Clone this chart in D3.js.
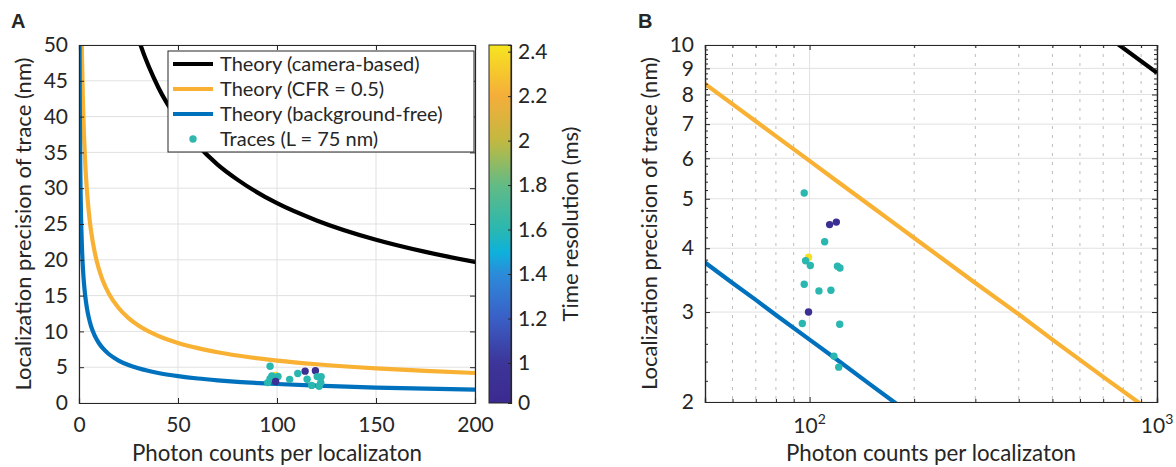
<!DOCTYPE html>
<html>
<head>
<meta charset="utf-8">
<script src="https://cdn.jsdelivr.net/npm/d3@7"></script>
<style>
  body { margin: 0; background: #fff; }
  svg text { font-family: Lato, "Open Sans", sans-serif; fill: #262626; }
</style>
</head>
<body>
<svg id="fig" width="1176" height="467"></svg>
<script>
// theory curves (photons -> precision in nm)
const photons = [0.25, 0.3, 0.35, 0.4, 0.5, 0.6, 0.7, 0.8, 1, 1.2, 1.5, 2, 2.5, 3, 4, 5, 6, 8, 10, 12, 15, 20, 25, 30, 40, 50, 60, 70, 80, 100, 120, 150, 175, 200, 300, 400, 500, 700, 1000];
const cameraBased = [558.0, 509.4, 471.6, 441.1, 394.6, 360.2, 333.5, 311.9, 279.0, 254.7, 227.8, 197.3, 176.5, 161.1, 139.5, 124.8, 113.9, 98.6, 88.2, 80.5, 72.0, 62.4, 55.8, 50.9, 44.1, 39.5, 36.0, 33.3, 31.2, 27.9, 25.5, 22.8, 21.1, 19.7, 16.1, 13.95, 12.48, 10.54, 8.82];
const cfrHalf = [118.6, 108.27, 100.24, 93.76, 83.86, 76.56, 70.87, 66.30, 59.3, 54.13, 48.42, 41.93, 37.51, 34.24, 29.65, 26.52, 24.21, 20.97, 18.75, 17.12, 15.31, 13.26, 11.86, 10.83, 9.38, 8.39, 7.66, 7.09, 6.63, 5.93, 5.41, 4.84, 4.48, 4.19, 3.42, 2.97, 2.65, 2.24, 1.88];
const bgFree = [53.0, 48.38, 44.79, 41.90, 37.48, 34.21, 31.67, 29.63, 26.5, 24.19, 21.64, 18.74, 16.76, 15.30, 13.25, 11.85, 10.82, 9.37, 8.38, 7.65, 6.84, 5.93, 5.30, 4.84, 4.19, 3.75, 3.42, 3.17, 2.96, 2.65, 2.42, 2.16, 2.00, 1.87, 1.53, 1.33, 1.19, 1.00, 0.84];

// measured traces (L = 75 nm)
const traceCounts = [96.5, 114.2, 119.4, 110.5, 99.3, 97.4, 100.5, 120.3, 122.3, 96.5, 106.4, 115.2, 99.3, 95.3, 122.1, 117.5, 121.3];
const tracePrecision = [5.13, 4.45, 4.50, 4.12, 3.84, 3.78, 3.70, 3.69, 3.66, 3.40, 3.30, 3.31, 3.00, 2.85, 2.84, 2.46, 2.34];
const traceTimeRes = [1.6, 0.9, 0.9, 1.6, 2.4, 1.6, 1.6, 1.6, 1.6, 1.6, 1.6, 1.6, 0.9, 1.6, 1.6, 1.6, 1.6];

// axes ticks
const xTicksA = [0, 50, 100, 150, 200];
const yTicksA = [0, 5, 10, 15, 20, 25, 30, 35, 40, 45, 50];
const cbTicks = [0.82, 1, 1.2, 1.4, 1.6, 1.8, 2, 2.2, 2.4];
const cbTickLabels = ["0", "1", "1.2", "1.4", "1.6", "1.8", "2", "2.2", "2.4"];
const xMajorB = [100, 1000];
const xMinorB = [60, 70, 80, 90, 200, 300, 400, 500, 600, 700, 800, 900];
const yTicksB = [2, 3, 4, 5, 6, 7, 8, 9, 10];
const yMinorB = d3.range(2.2, 10, 0.2).filter(v => Math.abs(v - Math.round(v)) > 0.05);

const legendItems = [
  {label: "Theory (camera-based)", color: "#000000", type: "line"},
  {label: "Theory (CFR = 0.5)", color: "#f8b133", type: "line"},
  {label: "Theory (background-free)", color: "#0072bd", type: "line"},
  {label: "Traces (L = 75 nm)", color: "#2fb7ad", type: "dot"}
];

const axisColor = "#262626";
const gridColor = "#e1e1e1";

// parula-like colormap for the time resolution
const cmap = d3.scaleLinear()
  .domain([0.82, 1.0, 1.2, 1.4, 1.5, 1.6, 1.8, 2.0, 2.2, 2.43])
  .range(["#3b2a8f", "#3d3599", "#3a5fc6", "#2c8bd9", "#0db2dc", "#2ab7b0", "#62bb85", "#c2b940", "#f5ad3a", "#f6e51f"])
  .interpolate(d3.interpolateRgb)
  .clamp(true);

const svg = d3.select("#fig");
const defs = svg.append("defs");

const curves = [
  {vals: cameraBased, color: "#000000"},
  {vals: cfrHalf, color: "#f8b133"},
  {vals: bgFree, color: "#0072bd"}
];

// ---------- Panel A ----------
const A = {left: 79, right: 475, top: 45, bottom: 403};
const xA = d3.scaleLinear().domain([0, 200]).range([A.left, A.right]);
const yA = d3.scaleLinear().domain([0, 50]).range([A.bottom, A.top]);

defs.append("clipPath").attr("id", "clipA")
  .append("rect").attr("x", A.left).attr("y", A.top)
  .attr("width", A.right - A.left).attr("height", A.bottom - A.top);

const gA = svg.append("g");

// grid
gA.selectAll(".gx").data(xTicksA).enter().append("line")
  .attr("x1", d => xA(d)).attr("x2", d => xA(d))
  .attr("y1", A.top).attr("y2", A.bottom)
  .attr("stroke", gridColor).attr("stroke-width", 1);
gA.selectAll(".gy").data(yTicksA).enter().append("line")
  .attr("x1", A.left).attr("x2", A.right)
  .attr("y1", d => yA(d)).attr("y2", d => yA(d))
  .attr("stroke", gridColor).attr("stroke-width", 1);

const plotA = gA.append("g").attr("clip-path", "url(#clipA)");
curves.forEach(c => {
  const line = d3.line()
    .x((d, i) => xA(photons[i]))
    .y(d => yA(d))
    .curve(d3.curveMonotoneX);
  plotA.append("path")
    .datum(c.vals)
    .attr("fill", "none")
    .attr("stroke", c.color)
    .attr("stroke-width", 4.2)
    .attr("d", line);
});

plotA.selectAll(".dotA").data(traceCounts).enter().append("circle")
  .attr("cx", d => xA(d))
  .attr("cy", (d, i) => yA(tracePrecision[i]))
  .attr("r", 3.7)
  .attr("fill", (d, i) => cmap(traceTimeRes[i]));

// axes with inward ticks on all sides
function boxAxes(g, x, y, xt, yt, b, fmtX, fmtY) {
  g.append("g").attr("transform", `translate(0,${b.bottom})`)
    .call(d3.axisBottom(x).tickValues(xt).tickSize(-5).tickPadding(14).tickFormat(fmtX));
  g.append("g").attr("transform", `translate(0,${b.top})`)
    .call(d3.axisTop(x).tickValues(xt).tickSize(-5).tickFormat(""));
  g.append("g").attr("transform", `translate(${b.left},0)`)
    .call(d3.axisLeft(y).tickValues(yt).tickSize(-5).tickPadding(11).tickFormat(fmtY));
  g.append("g").attr("transform", `translate(${b.right},0)`)
    .call(d3.axisRight(y).tickValues(yt).tickSize(-5).tickFormat(""));
}

boxAxes(gA, xA, yA, xTicksA, yTicksA, A, d3.format("d"), d3.format("d"));

// ---------- Colorbar ----------
const CB = {left: 489, right: 511, top: 45, bottom: 403};
const yCB = d3.scaleLinear().domain([0.82, 2.43]).range([CB.bottom, CB.top]);
const grad = defs.append("linearGradient").attr("id", "cbGrad")
  .attr("x1", "0%").attr("y1", "100%").attr("x2", "0%").attr("y2", "0%");
d3.range(0, 1.0001, 0.02).forEach(t => {
  grad.append("stop").attr("offset", (t * 100) + "%")
    .attr("stop-color", cmap(0.82 + t * (2.43 - 0.82)));
});
svg.append("rect")
  .attr("x", CB.left).attr("y", CB.top)
  .attr("width", CB.right - CB.left).attr("height", CB.bottom - CB.top)
  .attr("fill", "url(#cbGrad)");
svg.append("g").attr("transform", `translate(${CB.right},0)`)
  .call(d3.axisRight(yCB).tickValues(cbTicks).tickSize(-3).tickPadding(7)
    .tickFormat((d, i) => cbTickLabels[i]));
svg.append("rect")
  .attr("x", CB.left).attr("y", CB.top)
  .attr("width", CB.right - CB.left).attr("height", CB.bottom - CB.top)
  .attr("fill", "none").attr("stroke", axisColor).attr("stroke-width", 1);

svg.append("text")
  .attr("transform", `translate(578,${(CB.top + CB.bottom) / 2}) rotate(-90)`)
  .attr("text-anchor", "middle")
  .style("font-size", "22px")
  .text("Time resolution (ms)");

// ---------- Panel B ----------
const B = {left: 705, right: 1157, top: 45, bottom: 402};
const xB = d3.scaleLog().domain([50, 1000]).range([B.left, B.right]);
const yB = d3.scaleLog().domain([2, 10]).range([B.bottom, B.top]);

defs.append("clipPath").attr("id", "clipB")
  .append("rect").attr("x", B.left).attr("y", B.top)
  .attr("width", B.right - B.left).attr("height", B.bottom - B.top);

const gB = svg.append("g");

gB.selectAll(".gxm").data(xMinorB).enter().append("line")
  .attr("x1", d => xB(d)).attr("x2", d => xB(d))
  .attr("y1", B.top).attr("y2", B.bottom)
  .attr("stroke", "#bdbdbd").attr("stroke-width", 1)
  .attr("stroke-dasharray", "3,6");
gB.selectAll(".gx").data(xMajorB).enter().append("line")
  .attr("x1", d => xB(d)).attr("x2", d => xB(d))
  .attr("y1", B.top).attr("y2", B.bottom)
  .attr("stroke", gridColor).attr("stroke-width", 1);
gB.selectAll(".gy").data(yTicksB).enter().append("line")
  .attr("x1", B.left).attr("x2", B.right)
  .attr("y1", d => yB(d)).attr("y2", d => yB(d))
  .attr("stroke", gridColor).attr("stroke-width", 1);

const plotB = gB.append("g").attr("clip-path", "url(#clipB)");
curves.forEach(c => {
  const line = d3.line()
    .x((d, i) => xB(photons[i]))
    .y(d => yB(d));
  plotB.append("path")
    .datum(c.vals)
    .attr("fill", "none")
    .attr("stroke", c.color)
    .attr("stroke-width", 4.2)
    .attr("d", line);
});
plotB.selectAll(".dotB").data(traceCounts).enter().append("circle")
  .attr("cx", d => xB(d))
  .attr("cy", (d, i) => yB(tracePrecision[i]))
  .attr("r", 3.7)
  .attr("fill", (d, i) => cmap(traceTimeRes[i]));

// minor ticks
gB.append("g").attr("transform", `translate(0,${B.bottom})`)
  .call(d3.axisBottom(xB).tickValues(xMinorB).tickSize(-3).tickFormat(""));
gB.append("g").attr("transform", `translate(0,${B.top})`)
  .call(d3.axisTop(xB).tickValues(xMinorB).tickSize(-3).tickFormat(""));
gB.append("g").attr("transform", `translate(${B.left},0)`)
  .call(d3.axisLeft(yB).tickValues(yMinorB).tickSize(-3).tickFormat(""));
gB.append("g").attr("transform", `translate(${B.right},0)`)
  .call(d3.axisRight(yB).tickValues(yMinorB).tickSize(-3).tickFormat(""));

boxAxes(gB, xB, yB, xMajorB, yTicksB, B, () => "", d3.format("d"));

// superscript x tick labels for the log axis
gB.selectAll(".xlab").data(xMajorB).enter().append("text")
  .attr("x", d => xB(d))
  .attr("y", B.bottom + 31)
  .attr("text-anchor", "middle")
  .style("font-size", "21px")
  .each(function(d) {
    const t = d3.select(this);
    t.append("tspan").text("10");
    t.append("tspan").attr("dy", -9).style("font-size", "14px").text(Math.round(Math.log10(d)));
  });

// common styling of axis elements
svg.selectAll(".domain").attr("stroke", axisColor).attr("stroke-width", 1.2);
svg.selectAll(".tick line").attr("stroke", axisColor);
svg.selectAll(".tick text").style("font-size", "21px").attr("fill", axisColor)
  .style("font-family", "Lato, sans-serif");

// axis labels
[[A, 31], [B, 657]].forEach(([b, xl]) => {
  svg.append("text")
    .attr("x", (b.left + b.right) / 2)
    .attr("y", 461)
    .attr("text-anchor", "middle")
    .style("font-size", "22.3px")
    .text("Photon counts per localizaton");
  svg.append("text")
    .attr("transform", `translate(${xl},${(b.top + b.bottom) / 2}) rotate(-90)`)
    .attr("text-anchor", "middle")
    .style("font-size", "22px")
    .text("Localization precision of trace (nm)");
});

// panel letters
svg.append("text").attr("x", 11).attr("y", 28)
  .style("font-family", "'Liberation Sans', Arial, sans-serif")
  .style("font-weight", "bold").style("font-size", "20px").attr("fill", "#000").text("A");
svg.append("text").attr("x", 638).attr("y", 28)
  .style("font-family", "'Liberation Sans', Arial, sans-serif")
  .style("font-weight", "bold").style("font-size", "20px").attr("fill", "#000").text("B");

// ---------- Legend ----------
const lg = svg.append("g");
lg.append("rect")
  .attr("x", 168).attr("y", 51).attr("width", 306).attr("height", 101)
  .attr("fill", "#fff").attr("stroke", axisColor).attr("stroke-width", 1);
legendItems.forEach((d, i) => {
  const yy = 64 + i * 25;
  if (d.type === "line") {
    lg.append("line").attr("x1", 173).attr("x2", 213).attr("y1", yy).attr("y2", yy)
      .attr("stroke", d.color).attr("stroke-width", 4.2);
  } else {
    lg.append("circle").attr("cx", 193).attr("cy", yy).attr("r", 3.7).attr("fill", d.color);
  }
  lg.append("text").attr("x", 220).attr("y", yy).attr("dy", "0.35em")
    .style("font-size", "20px").text(d.label);
});
</script>
</body>
</html>
